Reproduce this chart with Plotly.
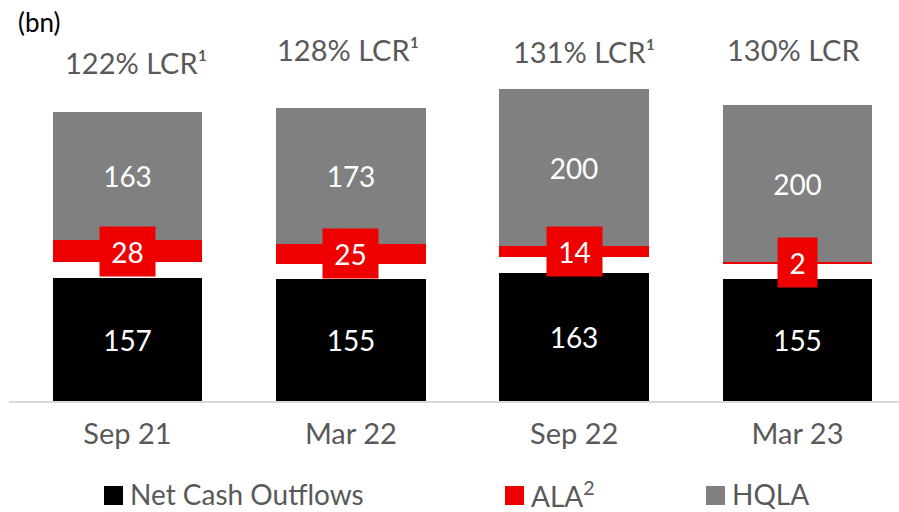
import plotly.graph_objects as go

# ---- data -------------------------------------------------------------
periods = ["Sep 21", "Mar 22", "Sep 22", "Mar 23"]
net_cash_outflows = [157, 155, 163, 155]
ala = [28, 25, 14, 2]
hqla = [163, 173, 200, 200]
lcr_labels = ["122% LCR¹", "128% LCR¹", "131% LCR¹", "130% LCR"]
series_names = ["Net Cash Outflows", "ALA<sup>2</sup>", "HQLA"]
unit_label = "(bn)"

# ---- styling / layout ------------------------------------------------
W, H = 899, 512
ML, MR, MT, MB = 9, 0, 20, 111
X_RANGE = [-0.5306, 3.4545]
Y_MAX = 485.35
GAP = 20                      # white spacer between outflows and liquidity stack
BAR_W = 0.67
FONT = "Lato"
TXT = "#595959"
COLORS = ["#000000", "#ee0000", "#808080"]

# vertical pixel position (from top) and horizontal shift of the LCR labels
LCR_POS = [(63, 8), (49, -3), (51, 10), (49, -4)]


def px_x(p):
    return (p - ML) / (W - ML - MR)


def px_y(p):
    return (H - MB - p) / (H - MB - MT)


ala_base = [o + GAP for o in net_cash_outflows]
hqla_base = [o + GAP + a for o, a in zip(net_cash_outflows, ala)]

fig = go.Figure()
fig.add_trace(go.Bar(
    x=periods, y=net_cash_outflows, name=series_names[0],
    marker=dict(color=COLORS[0], line=dict(width=0)), width=BAR_W,
    text=[str(v) for v in net_cash_outflows], textposition="inside",
    insidetextanchor="middle", textangle=0,
    textfont=dict(color="white", size=28, family=FONT),
    showlegend=False, hoverinfo="skip"))
fig.add_trace(go.Bar(
    x=periods, y=ala, base=ala_base, name=series_names[1],
    marker=dict(color=COLORS[1], line=dict(width=0)), width=BAR_W,
    showlegend=False, hoverinfo="skip"))
fig.add_trace(go.Bar(
    x=periods, y=hqla, base=hqla_base, name=series_names[2],
    marker=dict(color=COLORS[2], line=dict(width=0)), width=BAR_W,
    text=[str(v) for v in hqla], textposition="inside",
    insidetextanchor="middle", textangle=0,
    textfont=dict(color="white", size=28, family=FONT),
    showlegend=False, hoverinfo="skip"))

annotations = []
# ALA value badges centred on each red segment
for p, b, a in zip(periods, ala_base, ala):
    s = str(a)
    annotations.append(dict(
        x=p, y=b + a / 2, xref="x", yref="y", text=s, showarrow=False,
        bgcolor=COLORS[1], borderpad=0, width=23 + 16 * len(s), height=49,
        font=dict(color="white", size=28, family=FONT)))

# LCR ratio labels above the bars
for p, lab, (py, dx) in zip(periods, lcr_labels, LCR_POS):
    annotations.append(dict(
        x=p, y=px_y(py), xref="x", yref="paper", text=lab, showarrow=False,
        xshift=dx, yanchor="middle",
        font=dict(color=TXT, size=29, family=FONT)))

# unit label
annotations.append(dict(
    x=px_x(16), y=px_y(22), xref="paper", yref="paper", text=unit_label,
    showarrow=False, xanchor="left", yanchor="middle",
    font=dict(color="#000000", size=26, family=FONT)))

# legend: square swatch + name
shapes = []
legend_x = [104, 505, 706]
for name, col, lx in zip(series_names, COLORS, legend_x):
    shapes.append(dict(
        type="rect", xref="paper", yref="paper",
        x0=px_x(lx), x1=px_x(lx + 19), y0=px_y(505), y1=px_y(486),
        fillcolor=col, line=dict(width=0)))
    annotations.append(dict(
        x=px_x(lx + 24), y=px_y(494), xref="paper", yref="paper", text=name,
        showarrow=False, xanchor="left", yanchor="middle",
        font=dict(color=TXT, size=28, family=FONT)))

fig.update_layout(
    width=W, height=H, margin=dict(l=ML, r=MR, t=MT, b=MB, autoexpand=False),
    barmode="overlay", bargap=0,
    paper_bgcolor="white", plot_bgcolor="white",
    font=dict(family=FONT, color=TXT),
    annotations=annotations, shapes=shapes,
    xaxis=dict(type="category", range=X_RANGE, showgrid=False, zeroline=False,
               showline=True, linecolor="#d9d9d9", linewidth=2, ticks="",
               ticklabelstandoff=6,
               tickfont=dict(size=29, color=TXT, family=FONT), fixedrange=True),
    yaxis=dict(range=[0, Y_MAX], visible=False, showgrid=False, fixedrange=True),
)

fig.write_html("out.html", config={"displayModeBar": False})
